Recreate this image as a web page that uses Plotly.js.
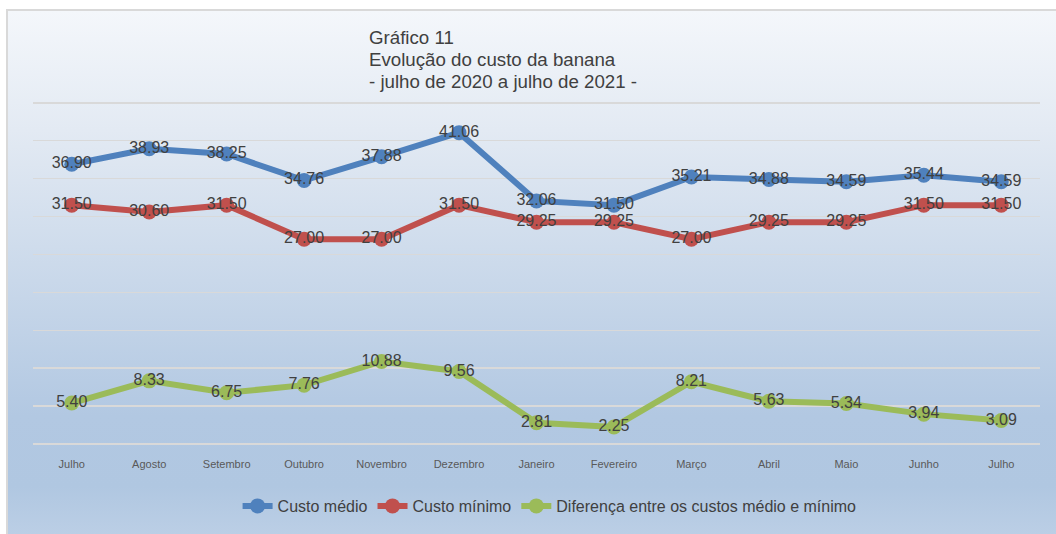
<!DOCTYPE html>
<html>
<head>
<meta charset="utf-8">
<script src="https://cdn.plot.ly/plotly-3.0.1.min.js"></script>
<style>
  html, body { margin: 0; padding: 0; background: #ffffff; width: 1056px; height: 534px; overflow: hidden; }
  #bg { position: absolute; left: 6px; top: 9px; width: 1060px; height: 540px;
        border-left: 2px solid #d9d9d9; border-top: 2px solid #d9d9d9;
        background: linear-gradient(to bottom, #f4f7fb 0%, #e3eaf3 22%, #c9d8ea 50%, #b2c8e2 75%, #b0c7e1 88%, #bfd1e7 100%); }
  #chart { position: absolute; left: 0; top: 0; width: 1056px; height: 534px; }
</style>
</head>
<body>
<div id="bg"></div>
<div id="chart"></div>
<script>
const months = ["Julho", "Agosto", "Setembro", "Outubro", "Novembro", "Dezembro", "Janeiro", "Fevereiro", "Março", "Abril", "Maio", "Junho", "Julho"];
const custoMedio = [36.90, 38.93, 38.25, 34.76, 37.88, 41.06, 32.06, 31.50, 35.21, 34.88, 34.59, 35.44, 34.59];
const custoMinimo = [31.50, 30.60, 31.50, 27.00, 27.00, 31.50, 29.25, 29.25, 27.00, 29.25, 29.25, 31.50, 31.50];
const diferenca = [5.40, 8.33, 6.75, 7.76, 10.88, 9.56, 2.81, 2.25, 8.21, 5.63, 5.34, 3.94, 3.09];
const seriesNames = ["Custo médio", "Custo mínimo", "Diferença entre os custos médio e mínimo"];
const colors = ["#4f81bd", "#c0504d", "#9bbb59"];
const titleLines = ["Gráfico 11", "Evolução do custo da banana", "- julho de 2020 a julho de 2021 -"];

const idx = months.map((m, i) => i);
const FONT = "Liberation Sans, Arial, sans-serif";
const labelFont = { family: FONT, size: 16, color: "#404040" };

function mk(vals, i) {
  return {
    type: "scatter",
    mode: "lines+markers+text",
    x: idx,
    y: vals,
    name: seriesNames[i],
    line: { color: colors[i], width: 6 },
    marker: { color: colors[i], size: 15 },
    texttemplate: "%{y:.2f}",
    textposition: "middle center",
    textfont: labelFont,
    hoverinfo: "skip",
    cliponaxis: false
  };
}

const data = [mk(custoMedio, 0), mk(custoMinimo, 1), mk(diferenca, 2)];

const plotTop = 99, plotBottom = 445, plotH = plotBottom - plotTop;
const annotations = titleLines.map((t, i) => ({
  text: t,
  xref: "paper", yref: "paper",
  x: (367 - 33) / 1007, xanchor: "left",
  y: 1 + (plotTop - (37 + 22 * i)) / plotH, yanchor: "middle",
  align: "left",
  showarrow: false,
  font: { family: FONT, size: 18.7, color: "#404040" }
}));

const layout = {
  width: 1056,
  height: 534,
  paper_bgcolor: "rgba(0,0,0,0)",
  plot_bgcolor: "rgba(0,0,0,0)",
  margin: { l: 33, r: 16, t: plotTop, b: 534 - plotBottom },
  font: { family: FONT, color: "#404040" },
  showlegend: true,
  legend: {
    orientation: "h",
    x: 0.513, xanchor: "center",
    y: (plotBottom - 506) / plotH, yanchor: "middle",
    font: { family: FONT, size: 16, color: "#404040" },
    bgcolor: "rgba(0,0,0,0)",
    traceorder: "normal"
  },
  xaxis: {
    range: [-0.5, 12.5],
    tickvals: idx,
    ticktext: months,
    showgrid: false,
    zeroline: false,
    showline: false,
    ticks: "",
    ticklabelstandoff: 12,
    tickfont: { family: FONT, size: 11, color: "#595959" },
    fixedrange: true
  },
  yaxis: {
    range: [0, 45.5],
    dtick: 5,
    tick0: 0,
    showticklabels: false,
    showgrid: true,
    gridcolor: "#d9d9d9",
    gridwidth: 1.5,
    zeroline: true,
    zerolinecolor: "#d9d9d9",
    zerolinewidth: 1.5,
    showline: false,
    fixedrange: true
  },
  annotations: annotations
};

Plotly.newPlot("chart", data, layout, { displayModeBar: false, staticPlot: true });
</script>
</body>
</html>
